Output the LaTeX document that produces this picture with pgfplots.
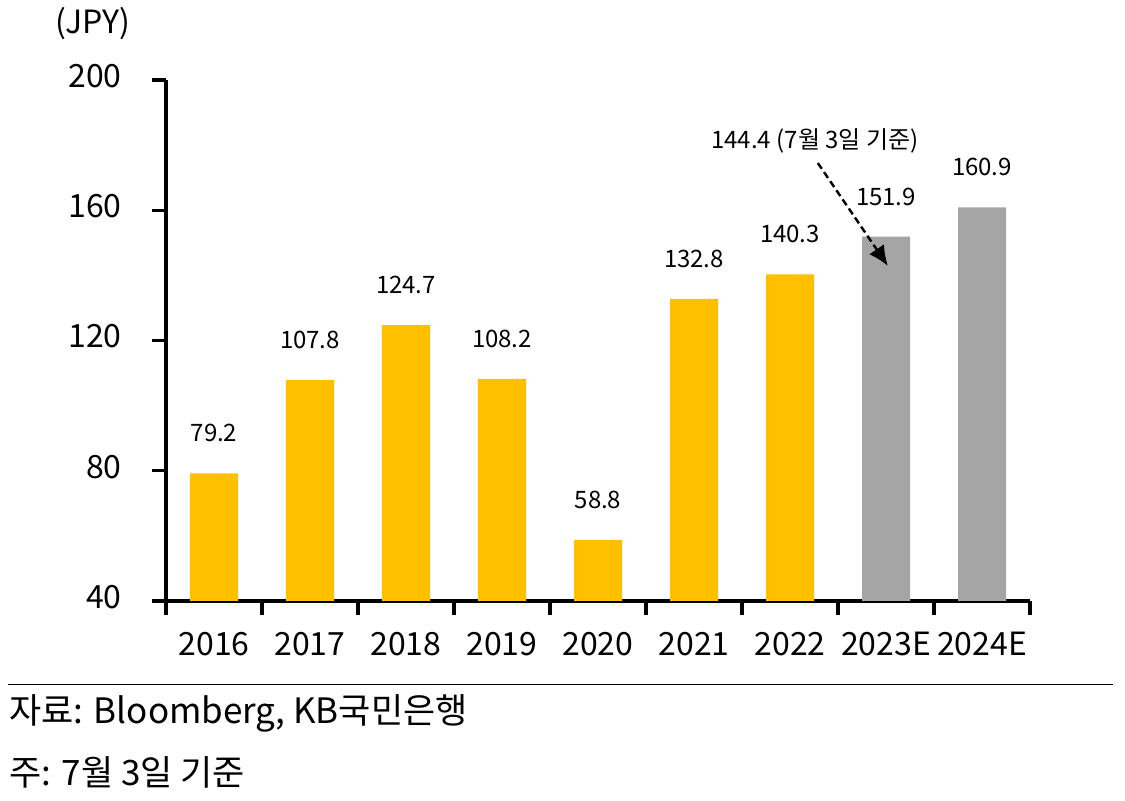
\documentclass[border=0pt]{standalone}
\usepackage{fontspec}
\setmainfont{Noto Sans CJK KR}
\usepackage{pgfplots}
\pgfplotsset{compat=1.18}
\usetikzlibrary{arrows.meta}
\definecolor{kbyellow}{HTML}{FFC000}
\definecolor{kbgray}{HTML}{A5A5A5}
\begin{document}
\begin{tikzpicture}[x=1pt,y=1pt]
\useasboundingbox (0,0) rectangle (562.5,400.5);
\node[font=\fontsize{16}{18}\selectfont, inner sep=0pt] at (46.25,388.75) {(JPY)};
\begin{axis}[
  at={(83pt,100pt)}, anchor=south west,
  scale only axis, width=432pt, height=260.5pt,
  xmin=-0.5, xmax=8.5, ymin=40, ymax=200,
  axis x line*=bottom, axis y line*=left,
  axis line style={line width=1.6pt, -},
  xtick={-0.5,0.5,...,8.5}, x tick label as interval,
  xticklabels={2016,2017,2018,2019,2020,2021,2022,2023E,2024E},
  ytick={40,80,...,200},
  tick align=outside, major tick length=7pt,
  tick style={line width=1.6pt, black},
  /pgf/number format/assume math mode=true,
  tick label style={font=\fontsize{16}{18}\selectfont, inner sep=0pt},
  xticklabel style={anchor=center, yshift=-14.5pt},
  yticklabel style={anchor=east, xshift=-15pt, yshift=2pt},
  clip=false,
]
\addplot[ybar, bar width=24pt, bar shift=0pt, fill=kbyellow, draw=none,
  nodes near coords,
  nodes near coords style={font=\fontsize{12}{14}\selectfont, anchor=center, yshift=20pt, inner sep=0pt, text=black,
    /pgf/number format/.cd, fixed, precision=1, fixed zerofill, assume math mode=true}]
  coordinates {(0,79.2) (1,107.8) (2,124.7) (3,108.2) (4,58.8) (5,132.8) (6,140.3)};
\addplot[ybar, bar width=24pt, bar shift=0pt, fill=kbgray, draw=none,
  nodes near coords,
  nodes near coords style={font=\fontsize{12}{14}\selectfont, anchor=center, yshift=20pt, inner sep=0pt, text=black,
    /pgf/number format/.cd, fixed, precision=1, fixed zerofill, assume math mode=true}]
  coordinates {(7,151.9) (8,160.9)};
\node[font=\fontsize{12}{14}\selectfont, inner sep=0pt] at (axis cs:6.26,181.3) {144.4 (7월 3일 기준)};
\draw[line width=1.2pt, dash pattern=on 3.5pt off 2pt, -{Latex[length=10pt,width=9pt]}] (axis cs:6.29,174.5) -- (axis cs:7.02,142.9);
\end{axis}
\draw[line width=0.5pt] (4,58) -- (556.5,58);
\node[font=\fontsize{17.5}{20}\selectfont, anchor=west, inner sep=0pt] at (4.5,44) {자료: Bloomberg, KB국민은행};
\node[font=\fontsize{17.5}{20}\selectfont, anchor=west, inner sep=0pt] at (4.5,14.5) {주: 7월 3일 기준};
\end{tikzpicture}
\end{document}
